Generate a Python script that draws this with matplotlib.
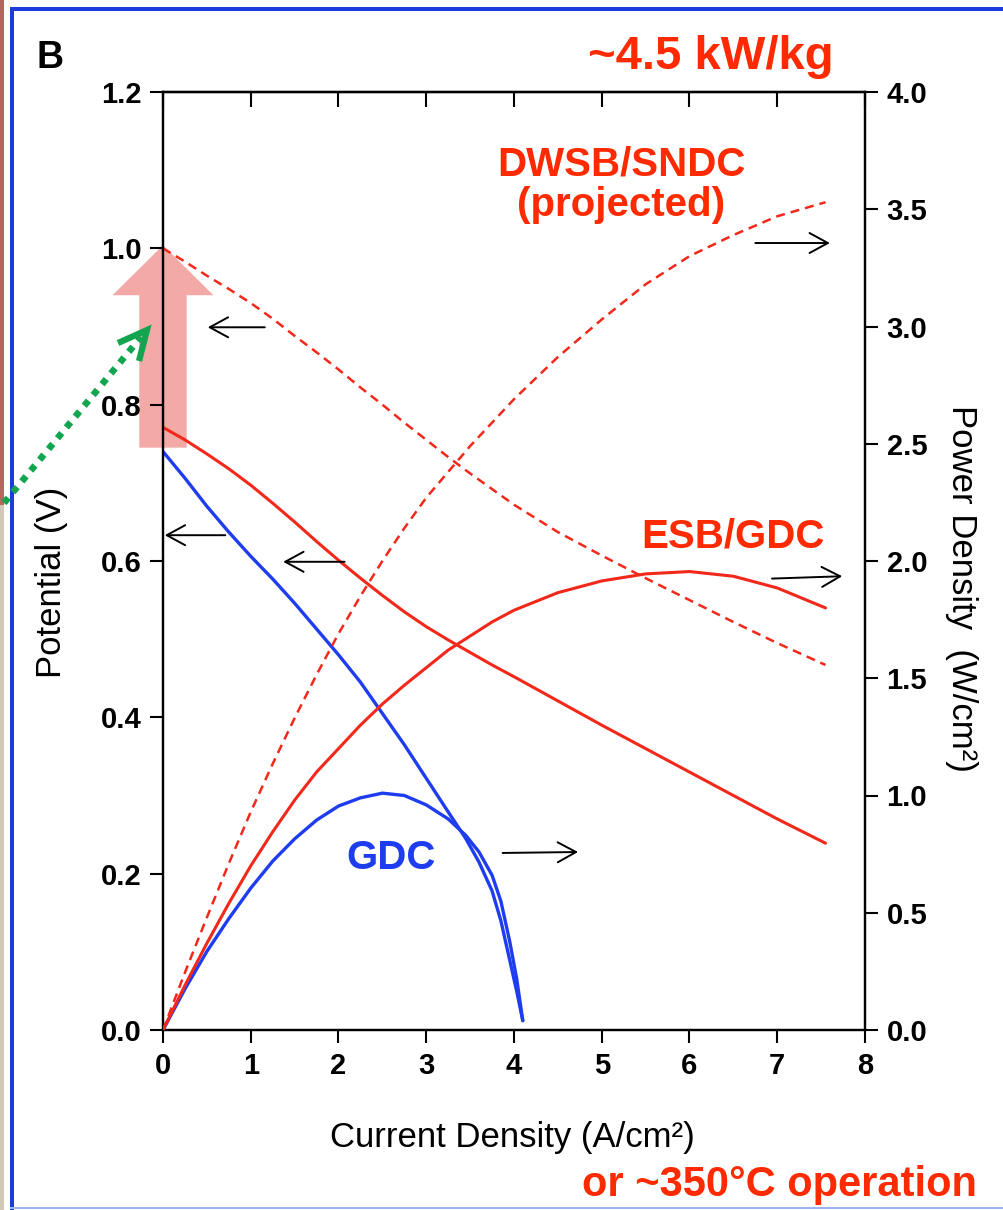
import numpy as np
import matplotlib
matplotlib.use("Agg")
import matplotlib.pyplot as plt
from matplotlib.patches import FancyArrow, Rectangle
from matplotlib.lines import Line2D

W, H = 1004, 1210

# ---------------- data ----------------
# GDC (blue): potential (V) and power density (W/cm2) vs current density (A/cm2)
gdc_j = [0.0, 0.25, 0.5, 0.75, 1.0, 1.25, 1.5, 1.75, 2.0, 2.25, 2.5, 2.75, 3.0, 3.25,
         3.45, 3.6, 3.75, 3.85, 3.95, 4.03, 4.1]
gdc_v = [0.740, 0.706, 0.670, 0.637, 0.606, 0.577, 0.546, 0.513, 0.480, 0.445, 0.405,
         0.365, 0.322, 0.279, 0.245, 0.215, 0.178, 0.140, 0.090, 0.050, 0.012]
gdc_p = [0.0, 0.175, 0.335, 0.475, 0.605, 0.72, 0.815, 0.895, 0.955, 0.99, 1.01,
         1.0, 0.96, 0.90, 0.83, 0.76, 0.66, 0.55, 0.38, 0.22, 0.04]

# ESB/GDC (red solid)
esb_j = [0.0, 0.25, 0.5, 0.75, 1.0, 1.25, 1.5, 1.75, 2.0, 2.25, 2.5, 2.75, 3.0, 3.25,
         3.5, 3.75, 4.0, 4.5, 5.0, 5.5, 6.0, 6.5, 7.0, 7.55]
esb_v = [0.771, 0.755, 0.737, 0.718, 0.697, 0.674, 0.650, 0.625, 0.601, 0.578, 0.556,
         0.535, 0.516, 0.499, 0.483, 0.467, 0.452, 0.421, 0.390, 0.360, 0.330, 0.300,
         0.270, 0.239]
esb_p = [0.0, 0.19, 0.37, 0.54, 0.70, 0.845, 0.98, 1.10, 1.20, 1.30, 1.39, 1.47, 1.545,
         1.62, 1.68, 1.74, 1.79, 1.865, 1.915, 1.945, 1.955, 1.935, 1.885, 1.80]

# DWSB/SNDC projected (red dashed)
dw_j = [0.0, 0.25, 0.5, 0.75, 1.0, 1.25, 1.5, 1.75, 2.0, 2.25, 2.5, 2.75, 3.0, 3.25,
        3.5, 3.75, 4.0, 4.5, 5.0, 5.5, 6.0, 6.5, 7.0, 7.55]
dw_v = [1.0, 0.983, 0.965, 0.948, 0.93, 0.91, 0.888, 0.867, 0.845, 0.822, 0.80, 0.777,
        0.755, 0.733, 0.712, 0.692, 0.672, 0.637, 0.607, 0.578, 0.55, 0.522, 0.495, 0.467]
dw_p = [0.0, 0.245, 0.48, 0.71, 0.93, 1.135, 1.33, 1.515, 1.69, 1.85, 2.0, 2.14, 2.27,
        2.38, 2.49, 2.59, 2.69, 2.87, 3.03, 3.18, 3.30, 3.39, 3.47, 3.53]

x_ticks = [0, 1, 2, 3, 4, 5, 6, 7, 8]
v_ticks = [0.0, 0.2, 0.4, 0.6, 0.8, 1.0, 1.2]
p_ticks = [0.0, 0.5, 1.0, 1.5, 2.0, 2.5, 3.0, 3.5, 4.0]

RED = "#f2281a"
TRED = "#ff2a00"
BLUE = "#1e3cf0"
GREEN = "#12a550"

plt.rcParams["font.family"] = ["Liberation Sans", "DejaVu Sans"]

fig = plt.figure(figsize=(W / 100, H / 100), dpi=100)
fig.patch.set_facecolor("white")


def fx(x):
    return x / W


def fy(y):
    return 1 - y / H


ax = fig.add_axes([fx(163), fy(1030), 702 / W, 938 / H])
ax2 = ax.twinx()

ax.set_xlim(0, 8)
ax.set_ylim(0, 1.2)
ax2.set_ylim(0, 4.0)

# curves
kw = dict(solid_joinstyle="round", solid_capstyle="round")
ax.plot(gdc_j, gdc_v, color=BLUE, lw=2.4, zorder=3, **kw)
ax2.plot(gdc_j, gdc_p, color=BLUE, lw=2.4, zorder=3, **kw)
ax.plot(esb_j, esb_v, color=RED, lw=2.2, zorder=3, **kw)
ax2.plot(esb_j, esb_p, color=RED, lw=2.2, zorder=3, **kw)
ax.plot(dw_j, dw_v, color=RED, lw=1.8, ls=(0, (3.6, 2.4)), zorder=3)
ax2.plot(dw_j, dw_p, color=RED, lw=1.8, ls=(0, (3.6, 2.4)), zorder=3)

# ticks and spines
for a in (ax, ax2):
    for s in a.spines.values():
        s.set_linewidth(1.6)
        s.set_color("black")

ax.set_xticks(x_ticks)
ax.set_yticks(v_ticks)
ax.set_yticklabels([f"{v:.1f}" for v in v_ticks])
ax2.set_yticks(p_ticks)
ax2.set_yticklabels([f"{p:.1f}" for p in p_ticks])

ax.tick_params(axis="both", direction="out", length=9.5, width=1.5, labelsize=21, pad=6)
ax2.tick_params(axis="y", direction="out", length=9.5, width=1.5, labelsize=21, pad=6)
for lab in ax.get_xticklabels() + ax.get_yticklabels() + ax2.get_yticklabels():
    lab.set_fontweight("bold")

sec = ax.secondary_xaxis("top")
sec.set_xticks(x_ticks)
sec.tick_params(direction="in", length=11, width=1.5, labeltop=False)
sec.spines["top"].set_linewidth(1.6)

# axis labels
fig.text(fx(52), fy(582), "Potential (V)", rotation=90, ha="center", va="center", fontsize=25)
fig.text(fx(962), fy(588), "Power Density  (W/cm²)", rotation=-90, ha="center", va="center", fontsize=25)
fig.text(fx(512), fy(1137), "Current Density (A/cm²)", ha="center", va="center", fontsize=25)

# pink up arrow
pink = FancyArrow(0.0, 0.745, 0.0, 0.259, width=0.54, head_width=1.15, head_length=0.064,
                  length_includes_head=True, facecolor=(0.91, 0.33, 0.31), edgecolor="none",
                  alpha=0.5, zorder=1.5, clip_on=False, transform=ax.transData)
ax.add_patch(pink)

# black pointer arrows
arr = dict(arrowstyle="->,head_length=0.55,head_width=0.3", lw=1.4, color="black",
           mutation_scale=24, shrinkA=0, shrinkB=0)
ax.annotate("", xy=(0.51, 0.899), xytext=(1.16, 0.899), arrowprops=arr, annotation_clip=False)
ax.annotate("", xy=(0.02, 0.633), xytext=(0.71, 0.633), arrowprops=arr, annotation_clip=False)
ax.annotate("", xy=(1.37, 0.599), xytext=(2.07, 0.599), arrowprops=arr, annotation_clip=False)
ax2.annotate("", xy=(7.60, 3.356), xytext=(6.75, 3.356), arrowprops=arr, annotation_clip=False)
ax2.annotate("", xy=(7.74, 1.935), xytext=(6.94, 1.925), arrowprops=arr, annotation_clip=False)
ax2.annotate("", xy=(4.73, 0.759), xytext=(3.87, 0.755), arrowprops=arr, annotation_clip=False)

# text annotations
fig.text(fx(50), fy(68), "B", fontsize=27, fontweight="bold", ha="center", va="baseline")
fig.text(fx(711), fy(69), "~4.5 kW/kg", color=TRED, fontsize=34, fontweight="bold", ha="center", va="baseline")
fig.text(fx(621), fy(175), "DWSB/SNDC", color=TRED, fontsize=29, fontweight="bold", ha="center", va="baseline")
fig.text(fx(621), fy(216), "(projected)", color=TRED, fontsize=29, fontweight="bold", ha="center", va="baseline")
fig.text(fx(733), fy(548), "ESB/GDC", color=TRED, fontsize=29, fontweight="bold", ha="center", va="baseline")
fig.text(fx(391), fy(869), "GDC", color=BLUE, fontsize=29, fontweight="bold", ha="center", va="baseline")
fig.text(fx(780), fy(1196), "or ~350°C operation", color=TRED, fontsize=30, fontweight="bold",
         ha="center", va="baseline")

# green dotted arrow
fig.add_artist(Line2D([fx(4), fx(141)], [fy(503), fy(337)], transform=fig.transFigure,
                      color=GREEN, lw=4.8, ls=(0, (1.0, 1.1))))
fig.add_artist(Line2D([fx(118), fx(147), fx(139)], [fy(343), fy(330), fy(361)],
                      transform=fig.transFigure, color=GREEN, lw=4.5, solid_capstyle="butt",
                      solid_joinstyle="miter"))

# frame decorations
fig.add_artist(Rectangle((0, fy(505)), fx(4), 505 / H, transform=fig.transFigure,
                         facecolor="#b5675e", edgecolor="none"))
fig.add_artist(Rectangle((0, 0), fx(4), fy(505), transform=fig.transFigure,
                         facecolor="#d2c8b6", edgecolor="none"))
fig.add_artist(Rectangle((fx(10), fy(11)), 994 / W, 4 / H, transform=fig.transFigure,
                         facecolor="#1b3cdc", edgecolor="none"))
fig.add_artist(Rectangle((fx(10), 0), 4 / W, fy(7), transform=fig.transFigure,
                         facecolor="#1b3cdc", edgecolor="none"))
fig.add_artist(Rectangle((fx(10), fy(1209)), 994 / W, 2 / H, transform=fig.transFigure,
                         facecolor="#9db4ee", edgecolor="none"))

fig.savefig("out.png", dpi=100)
